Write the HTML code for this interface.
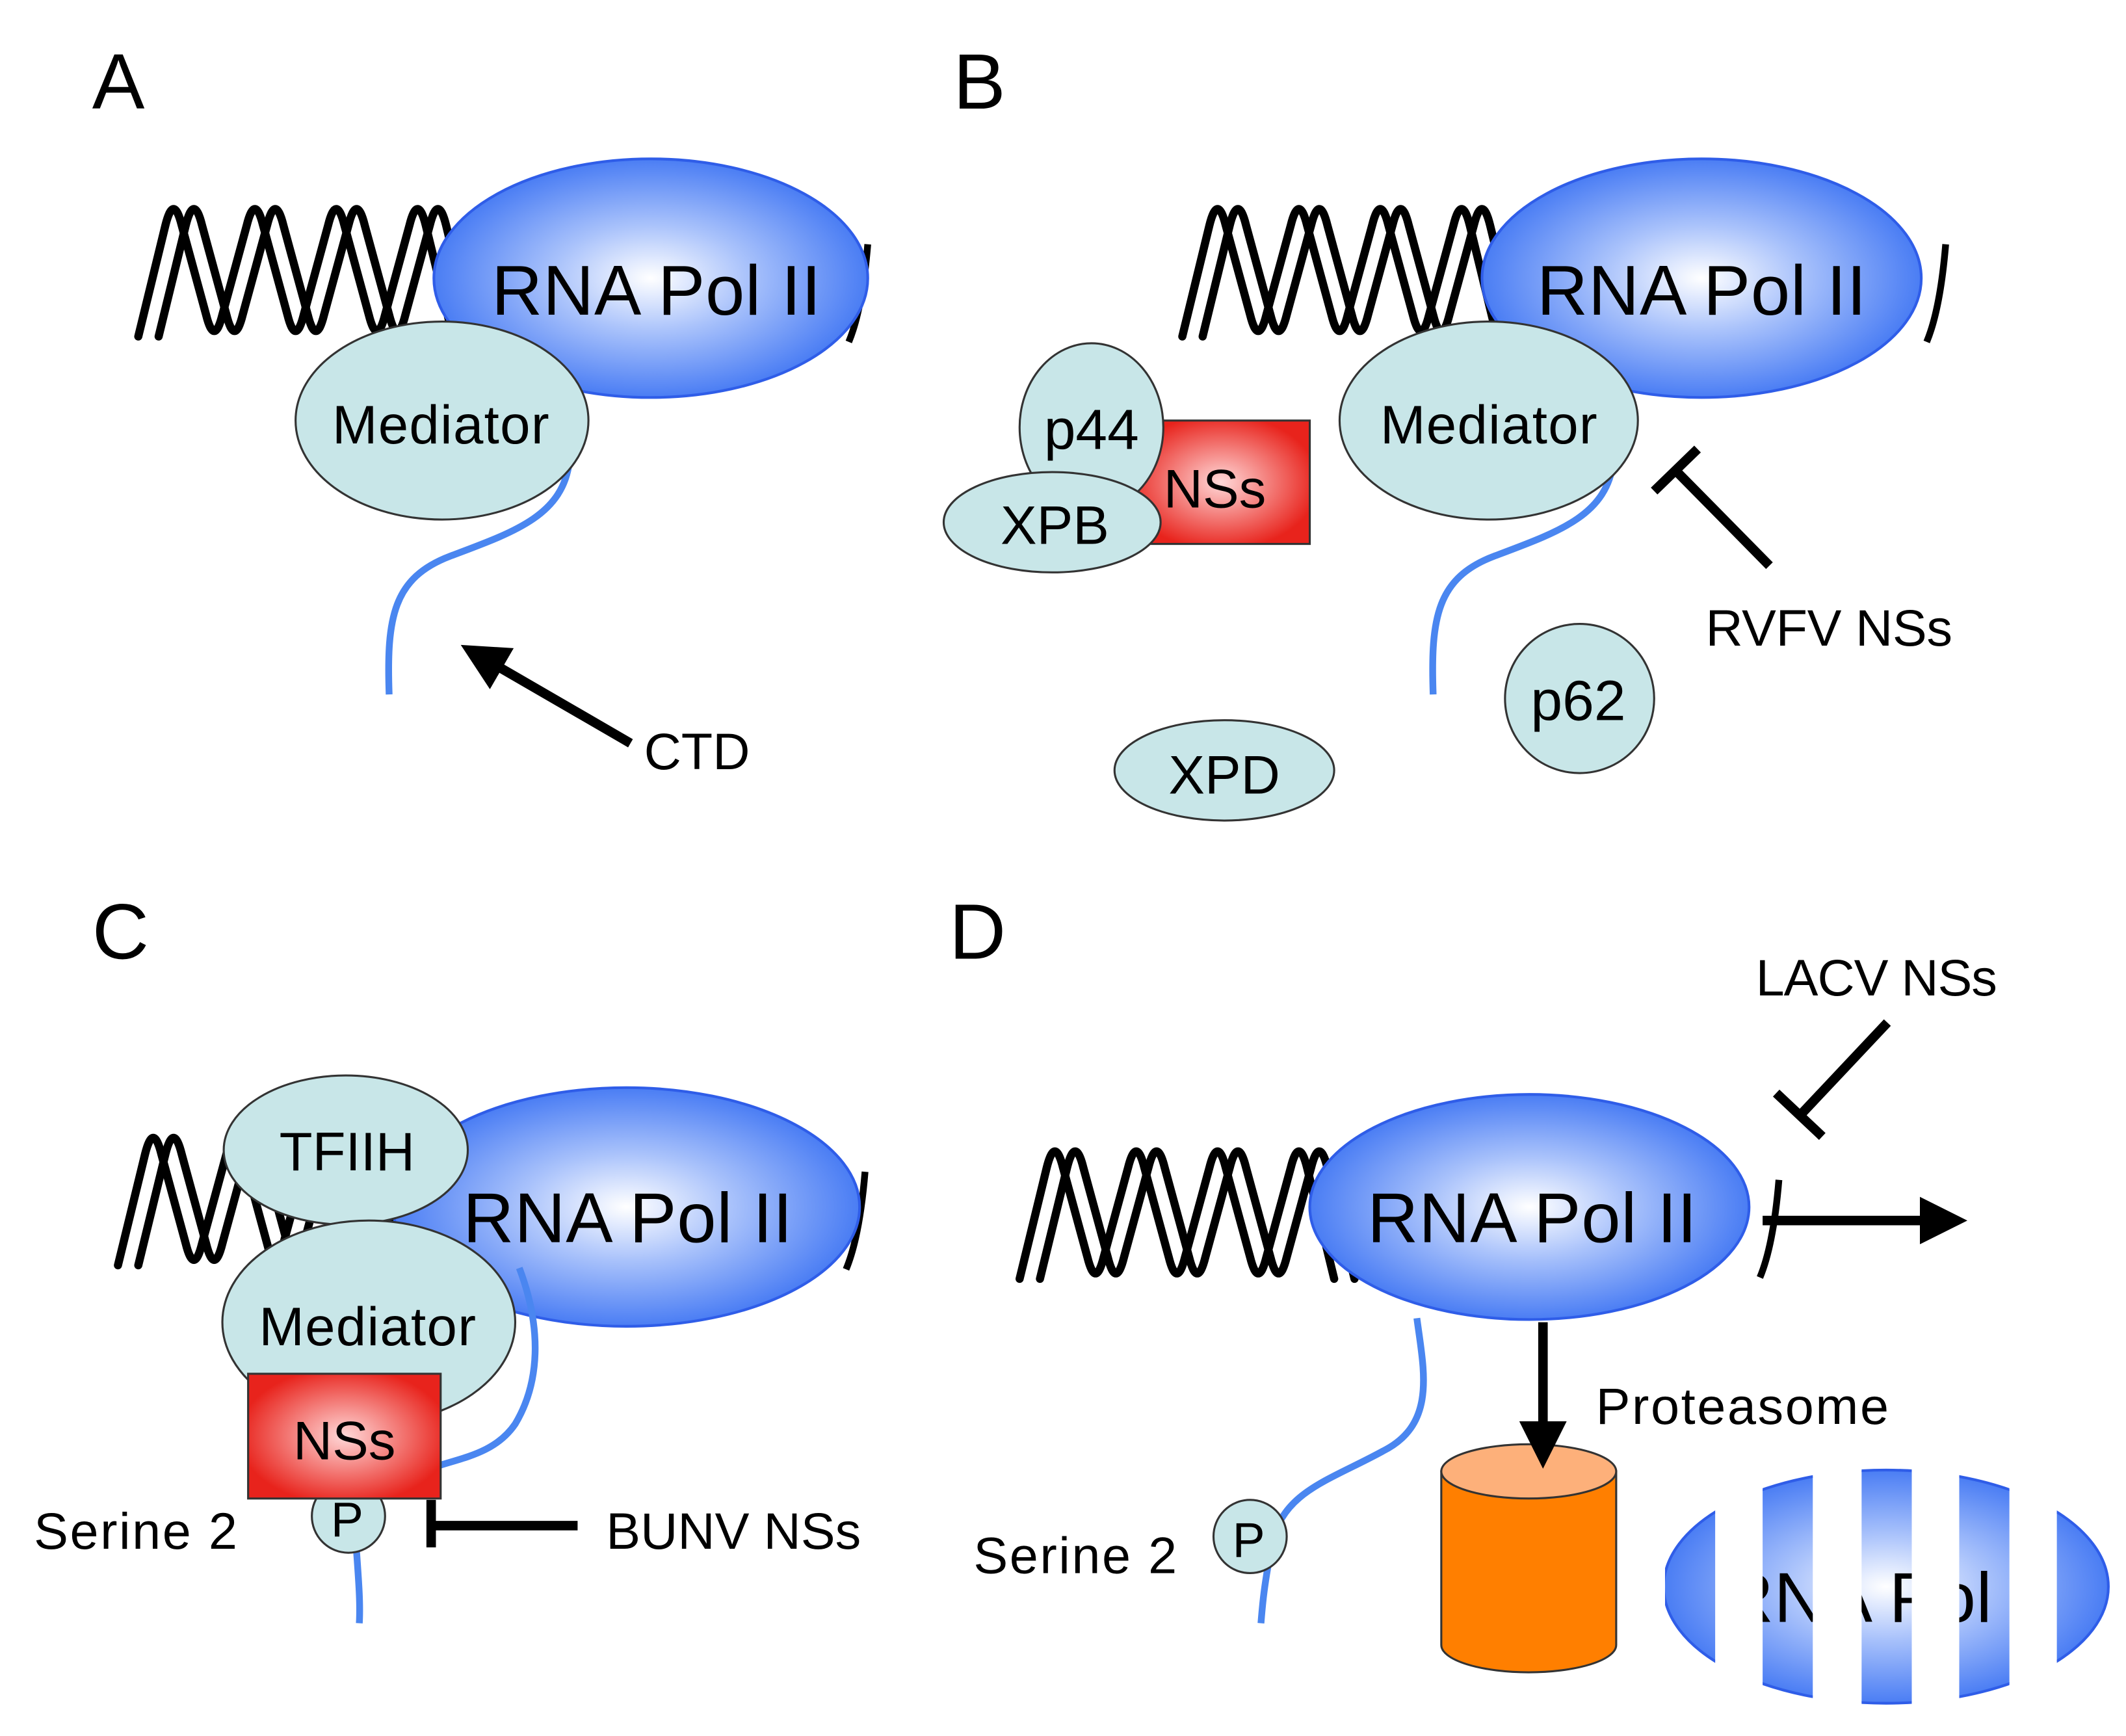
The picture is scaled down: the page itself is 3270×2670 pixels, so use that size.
<!DOCTYPE html>
<html><head><meta charset="utf-8"><style>html,body{margin:0;padding:0;background:#fff}svg{display:block}</style></head>
<body>
<svg xmlns="http://www.w3.org/2000/svg" width="3270" height="2670" viewBox="0 0 1568 1280" font-family="'Liberation Sans','DejaVu Sans',sans-serif">
<defs>
<radialGradient id="pol" cx="50%" cy="50%" r="50%"><stop offset="0" stop-color="#ffffff"/><stop offset="0.45" stop-color="#a9c2fb"/><stop offset="1" stop-color="#4a7df4"/></radialGradient>
<radialGradient id="ns" cx="50%" cy="50%" r="55%"><stop offset="0" stop-color="#ffd8d8"/><stop offset="1" stop-color="#e8231c"/></radialGradient>
<g id="helix" fill="none" stroke="#000" stroke-width="6" stroke-linejoin="round" stroke-linecap="round">
<path d="M102,248 L122,166 Q128,142 134,166 L152,232 Q158,256 164,232 L182,166 Q188,142 194,166 L212,232 Q218,256 224,232 L242,166 Q248,142 254,166 L272,232 Q278,256 284,232 L302,166 Q308,142 314,166 L334,248"/>
<path d="M117,248 L137,166 Q143,142 149,166 L167,232 Q173,256 179,232 L197,166 Q203,142 209,166 L227,232 Q233,256 239,232 L257,166 Q263,142 269,166 L287,232 Q293,256 299,232 L317,166 Q323,142 329,166 L349,248"/>
</g>
<marker id="ah" markerWidth="5" markerHeight="5" refX="2" refY="2.5" orient="auto" markerUnits="strokeWidth"><path d="M0,0 L5,2.5 L0,5 z" fill="#000"/></marker>
<clipPath id="strips">
<rect x="1228" y="1000" width="37" height="300"/><rect x="1300" y="1000" width="37" height="300"/><rect x="1373" y="1000" width="37" height="300"/><rect x="1445" y="1000" width="37" height="300"/><rect x="1517" y="1000" width="40" height="300"/>
</clipPath>
</defs>

<!-- Panel A -->
<text x="68" y="80" font-size="58">A</text>
<use href="#helix"/>
<path d="M640,180 Q636,228 626,252" fill="none" stroke="#000" stroke-width="5"/>
<ellipse cx="480" cy="205" rx="160" ry="88" fill="url(#pol)" stroke="#2f5de8" stroke-width="2"/>
<text x="484" y="232" font-size="52" text-anchor="middle" textLength="243">RNA Pol II</text>
<path d="M420,340 C415,380 380,392 332,410 C290,426 285,455 287,512" fill="none" stroke="#4a86f0" stroke-width="5"/>
<ellipse cx="326" cy="310" rx="108" ry="73" fill="#c8e6e8" stroke="#333" stroke-width="1.5"/>
<text x="325" y="327" font-size="40" text-anchor="middle" textLength="160">Mediator</text>
<line x1="465" y1="548" x2="358" y2="486" stroke="#000" stroke-width="7" marker-end="url(#ah)"/>
<text x="475" y="567" font-size="38">CTD</text>

<!-- Panel B -->
<text x="703" y="80" font-size="58">B</text>
<use href="#helix" transform="translate(770,0)"/>
<path d="M1435,180 Q1431,228 1421,252" fill="none" stroke="#000" stroke-width="5"/>
<ellipse cx="1255" cy="205" rx="162" ry="88" fill="url(#pol)" stroke="#2f5de8" stroke-width="2"/>
<text x="1255" y="232" font-size="52" text-anchor="middle" textLength="243">RNA Pol II</text>
<path d="M1190,340 C1185,380 1150,392 1102,410 C1060,426 1055,455 1057,512" fill="none" stroke="#4a86f0" stroke-width="5"/>
<ellipse cx="1098" cy="310" rx="110" ry="73" fill="#c8e6e8" stroke="#333" stroke-width="1.5"/>
<text x="1098" y="327" font-size="40" text-anchor="middle" textLength="160">Mediator</text>
<rect x="835" y="310" width="131" height="91" fill="url(#ns)" stroke="#333" stroke-width="1.5"/>
<text x="896" y="374" font-size="40" text-anchor="middle">NSs</text>
<ellipse cx="805" cy="315" rx="53" ry="62" fill="#c8e6e8" stroke="#333" stroke-width="1.5"/>
<text x="805" y="331" font-size="42" text-anchor="middle">p44</text>
<ellipse cx="776" cy="385" rx="80" ry="37" fill="#c8e6e8" stroke="#333" stroke-width="1.5"/>
<text x="778" y="401" font-size="40" text-anchor="middle">XPB</text>
<line x1="1305" y1="417" x2="1236" y2="347" stroke="#000" stroke-width="7"/>
<line x1="1220" y1="362" x2="1252" y2="331" stroke="#000" stroke-width="7"/>
<text x="1258" y="476" font-size="38" textLength="182">RVFV NSs</text>
<ellipse cx="1165" cy="515" rx="55" ry="55" fill="#c8e6e8" stroke="#333" stroke-width="1.5"/>
<text x="1164" y="531" font-size="42" text-anchor="middle">p62</text>
<ellipse cx="903" cy="568" rx="81" ry="37" fill="#c8e6e8" stroke="#333" stroke-width="1.5"/>
<text x="903" y="585" font-size="40" text-anchor="middle">XPD</text>

<!-- Panel C -->
<text x="68" y="707" font-size="58">C</text>
<use href="#helix" transform="translate(-15,685)"/>
<path d="M638,864 Q634,912 624,936" fill="none" stroke="#000" stroke-width="5"/>
<ellipse cx="462" cy="890" rx="172" ry="88" fill="url(#pol)" stroke="#2f5de8" stroke-width="2"/>
<text x="463" y="916" font-size="52" text-anchor="middle" textLength="243">RNA Pol II</text>
<ellipse cx="255" cy="848" rx="90" ry="55" fill="#c8e6e8" stroke="#333" stroke-width="1.5"/>
<text x="256" y="863" font-size="40" text-anchor="middle">TFIIH</text>
<path d="M383,935 C400,980 398,1020 380,1050 C365,1072 340,1075 320,1082" fill="none" stroke="#4a86f0" stroke-width="5"/>
<ellipse cx="272" cy="975" rx="108" ry="75" fill="#c8e6e8" stroke="#333" stroke-width="1.5"/>
<text x="271" y="992" font-size="40" text-anchor="middle" textLength="160">Mediator</text>
<path d="M262,1130 C264,1160 266,1180 265,1197" fill="none" stroke="#4a86f0" stroke-width="5"/>
<circle cx="257" cy="1118" r="27" fill="#c8e6e8" stroke="#333" stroke-width="1.5"/>
<text x="256" y="1133" font-size="36" text-anchor="middle">P</text>
<rect x="183" y="1013" width="142" height="92" fill="url(#ns)" stroke="#333" stroke-width="1.5"/>
<text x="254" y="1076" font-size="40" text-anchor="middle">NSs</text>
<text x="25" y="1142" font-size="38" textLength="150">Serine 2</text>
<line x1="426" y1="1125" x2="318" y2="1125" stroke="#000" stroke-width="7"/>
<line x1="318" y1="1106" x2="318" y2="1141" stroke="#000" stroke-width="7"/>
<text x="447" y="1142" font-size="38" textLength="188">BUNV NSs</text>

<!-- Panel D -->
<text x="700" y="707" font-size="58">D</text>
<use href="#helix" transform="translate(650,695)"/>
<path d="M1312,870 Q1308,918 1298,942" fill="none" stroke="#000" stroke-width="5"/>
<path d="M1045,972 C1050,1010 1060,1050 1020,1070 C980,1092 945,1100 938,1140 C932,1170 931,1185 930,1197" fill="none" stroke="#4a86f0" stroke-width="5"/>
<ellipse cx="1128" cy="890" rx="162" ry="83" fill="url(#pol)" stroke="#2f5de8" stroke-width="2"/>
<text x="1130" y="916" font-size="52" text-anchor="middle" textLength="243">RNA Pol II</text>
<line x1="1300" y1="900" x2="1430" y2="900" stroke="#000" stroke-width="7" marker-end="url(#ah)"/>
<line x1="1392" y1="754" x2="1328" y2="822" stroke="#000" stroke-width="7"/>
<line x1="1310" y1="806" x2="1344" y2="838" stroke="#000" stroke-width="7"/>
<text x="1295" y="734" font-size="38" textLength="178">LACV NSs</text>
<circle cx="922" cy="1133" r="27" fill="#c8e6e8" stroke="#333" stroke-width="1.5"/>
<text x="921" y="1148" font-size="36" text-anchor="middle">P</text>
<text x="718" y="1160" font-size="38" textLength="150">Serine 2</text>
<text x="1177" y="1050" font-size="38" textLength="216">Proteasome</text>
<path d="M1063,1085 L1063,1213 A64,20 0 0 0 1192,1213 L1192,1085 Z" fill="#ff7f00" stroke="#333" stroke-width="1.5"/>
<ellipse cx="1127.5" cy="1085" rx="64.5" ry="20" fill="#fdb07a" stroke="#333" stroke-width="1.5"/>
<line x1="1138" y1="975" x2="1138" y2="1062" stroke="#000" stroke-width="7" marker-end="url(#ah)"/>
<g clip-path="url(#strips)">
<ellipse cx="1391" cy="1170" rx="164" ry="86" fill="url(#pol)" stroke="#2f5de8" stroke-width="2"/>
<text x="1392" y="1196" font-size="52" text-anchor="middle" textLength="243">RNA Pol II</text>
</g>
</svg>
</body></html>
